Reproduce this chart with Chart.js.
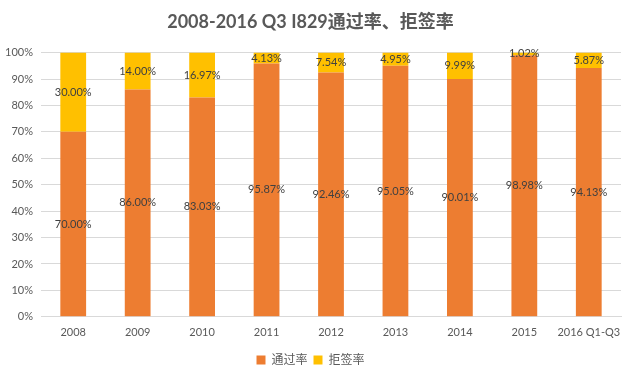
<!DOCTYPE html>
<html>
<head>
<meta charset="utf-8">
<script src="https://cdn.jsdelivr.net/npm/chart.js@4"></script>
<style>
  html, body { margin: 0; padding: 0; background: #fff; }
  #wrap { width: 624px; height: 378px; position: relative; }
</style>
</head>
<body>
<div id="wrap"><canvas id="myChart" width="624" height="378"></canvas></div>
<script>
const years = ['2008', '2009', '2010', '2011', '2012', '2013', '2014', '2015', '2016 Q1-Q3'];
const passRate = [70.00, 86.00, 83.03, 95.87, 92.46, 95.05, 90.01, 98.98, 94.13];
const denyRate = [30.00, 14.00, 16.97, 4.13, 7.54, 4.95, 9.99, 1.02, 5.87];
const yTicks = [0, 10, 20, 30, 40, 50, 60, 70, 80, 90, 100];

const FONT = "Lato, 'Noto Sans CJK SC', sans-serif";

// labels in the middle of every segment
const segLabels = {
  id: 'segLabels',
  afterDatasetsDraw(chart) {
    const ctx = chart.ctx;
    ctx.save();
    ctx.font = "11px " + FONT;
    ctx.fillStyle = '#404040';
    ctx.textAlign = 'center';
    ctx.textBaseline = 'middle';
    chart.data.datasets.forEach((ds, i) => {
      chart.getDatasetMeta(i).data.forEach((bar, j) => {
        const p = bar.getProps(['x', 'y', 'base'], true);
        ctx.fillText(ds.data[j].toFixed(2) + '%', p.x, (p.y + p.base) / 2);
      });
    });
    ctx.restore();
  }
};

const ctx = document.getElementById('myChart').getContext('2d');
const myChart = new Chart(ctx, {
  type: 'bar',
  data: {
    labels: years,
    datasets: [{
      label: '通过率',
      data: passRate,
      backgroundColor: '#ED7D31'
    }, {
      label: '拒签率',
      data: denyRate,
      backgroundColor: '#FFC000'
    }]
  },
  options: {
    responsive: false,
    animation: false,
    categoryPercentage: 1,
    barPercentage: 0.4,
    layout: { padding: { left: 0, right: 3, top: 0, bottom: 2 } },
    scales: {
      x: {
        stacked: true,
        afterFit(axis) { axis.height += 8; },
        grid: { display: false },
        border: { color: '#d9d9d9' },
        ticks: { color: '#595959', font: { family: FONT, size: 11 }, maxRotation: 0, autoSkip: false, padding: 1 }
      },
      y: {
        stacked: true,
        min: 0,
        max: 100,
        afterBuildTicks(axis) { axis.ticks = yTicks.map(v => ({ value: v })); },
        afterFit(axis) { axis.width = 41; },
        grid: { color: '#d9d9d9', drawTicks: false },
        border: { display: false },
        ticks: {
          color: '#595959',
          font: { family: FONT, size: 11 },
          padding: 8,
          callback: v => v + '%'
        }
      }
    },
    plugins: {
      title: {
        display: true,
        text: '2008-2016 Q3 I829通过率、拒签率',
        color: '#595959',
        font: { family: FONT, size: 18, weight: 'bold' },
        padding: { top: 11, bottom: 20 }
      },
      legend: {
        position: 'bottom',
        labels: {
          color: '#595959',
          font: { family: FONT, size: 12 },
          boxWidth: 9,
          boxHeight: 9,
          padding: 6
        }
      },
      tooltip: { enabled: false }
    }
  },
  plugins: [segLabels]
});
</script>
</body>
</html>
